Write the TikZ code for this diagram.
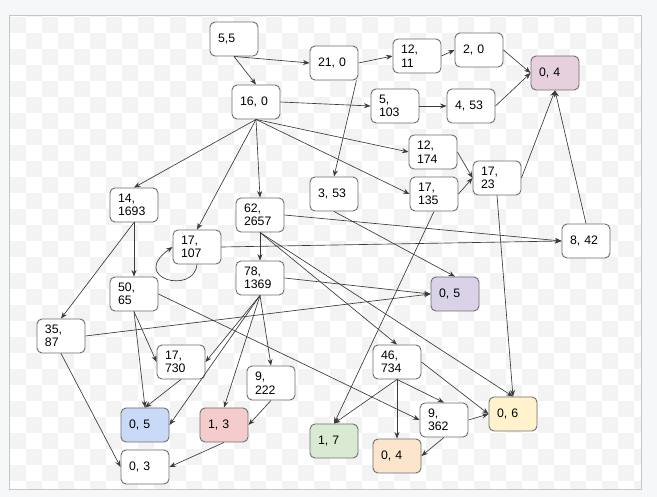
\documentclass[tikz,border=0pt]{standalone}
\usepackage{fontspec}
\setmainfont{Liberation Sans}
\usetikzlibrary{arrows.meta,calc}
\definecolor{pagebg}{HTML}{F6F7F9}
\definecolor{checkgray}{HTML}{F3F3F3}
\definecolor{framecol}{HTML}{C6C6C6}
\definecolor{boxline}{HTML}{6E6E6E}
\definecolor{edgecol}{HTML}{3A3A3A}
\definecolor{cpink}{HTML}{E6D0DE}
\definecolor{cpurple}{HTML}{D9D2E9}
\definecolor{cblue}{HTML}{C9DAF8}
\definecolor{cred}{HTML}{F4CCCC}
\definecolor{cgreen}{HTML}{D9EAD3}
\definecolor{corange}{HTML}{FCE5CD}
\definecolor{cyellow}{HTML}{FFF2CC}
\begin{document}
\begin{tikzpicture}[x=1pt,y=-1pt,
  box/.style={draw=boxline, fill=white, rounded corners=5pt, line width=0.9pt,
    minimum width=48pt, minimum height=34pt, text width=32pt,
    inner xsep=8pt, inner ysep=0pt, align=left,
    font=\fontsize{12.3}{13.5}\selectfont},
  edge/.style={draw=edgecol, line width=0.65pt, -{Stealth[length=6.5pt,width=5pt]}}]
\useasboundingbox (0,0) rectangle (657,497);
\fill[pagebg] (0,0) rectangle (657,497);
\fill[white] (9,16) rectangle (641,490);
\begin{scope}
\clip (9,16) rectangle (641,490);
\foreach \i in {-1,...,39}{
  \foreach \j in {-1,...,29}{
    \pgfmathtruncatemacro\s{mod(\i+\j+2,2)}
    \ifnum\s=0 \fill[checkgray] (10+16*\i,17+16*\j) rectangle ++(16,16);\fi
  }
}
\end{scope}
\draw[framecol, line width=1pt] (9,16) rectangle (641,490);

\node[box] (n55) at (234,39) {5,5};
\node[box] (n210) at (334,63) {21, 0};
\node[box] (n1211) at (417,56) {12,\\11};
\node[box] (n20) at (479,50) {2, 0};
\node[box,fill=cpink] (n04a) at (555,73) {0, 4};
\node[box] (n160) at (256,102) {16, 0};
\node[box] (n5103) at (395,106) {5,\\103};
\node[box] (n453) at (471,106) {4, 53};
\node[box] (n12174) at (433,152) {12,\\174};
\node[box] (n353) at (334,194) {3, 53};
\node[box] (n17135) at (434,194) {17,\\135};
\node[box] (n1723) at (497,178) {17,\\23};
\node[box] (n1693) at (134,205) {14,\\1693};
\node[box] (n2657) at (260,215) {62,\\2657};
\node[box] (n107) at (197,247) {17,\\107};
\node[box] (n842) at (586,241) {8, 42};
\node[box] (n1369) at (260,278) {78,\\1369};
\node[box] (n5065) at (134,294) {50,\\65};
\node[box,fill=cpurple] (n05p) at (455,294) {0, 5};
\node[box] (n3587) at (61,336) {35,\\87};
\node[box] (n730) at (181,362) {17,\\730};
\node[box] (n46734) at (397,362) {46,\\734};
\node[box] (n9222) at (271,383) {9,\\222};
\node[box,fill=cyellow] (n06) at (513,414) {0, 6};
\node[box] (n9362) at (444,420) {9,\\362};
\node[box,fill=cblue] (n05b) at (145,425) {0, 5};
\node[box,fill=cred] (n13) at (224,425) {1, 3};
\node[box,fill=cgreen] (n17) at (334,441) {1, 7};
\node[box,fill=corange] (n04o) at (397,456) {0, 4};
\node[box] (n03) at (145,467) {0, 3};

\draw[edge] (n55.south) -- (n210.west);
\draw[edge] (n55.south) -- (n160.north);
\draw[edge] (n210.east) -- (n1211.west);
\draw[edge] (n1211.east) -- (n20.west);
\draw[edge] (n20.east) -- (n04a.west);
\draw[edge] (n453.east) -- (n04a.west);
\draw[edge] (n160.east) -- (n5103.west);
\draw[edge] (n5103.east) -- (n453.west);
\draw[edge] (n160.south) -- (n12174.west);
\draw[edge] ($(n210.south east)+(-2,0)$) -- (n353.north);
\draw[edge] (n160.south) -- (n1693.north);
\draw[edge] (n160.south) -- (n107.north);
\draw[edge] (n160.south) -- (n2657.north);
\draw[edge] (n160.south) -- (n17135.west);
\draw[edge] (n12174.east) -- (n1723.west);
\draw[edge] (n17135.east) -- (n1723.west);
\draw[edge] (n1723.east) -- (n04a.south);
\draw[edge] (n842.north) -- (n04a.south);
\draw[edge] (n1723.south) -- (n06.north);
\draw[edge] (n2657.east) -- (n842.west);
\draw[edge] (n107.east) -- (n842.west);
\draw[edge] (n353.south) -- (n05p.north);
\draw[edge] (n1369.east) -- (n05p.west);
\draw[edge] (n3587.east) -- (n05p.west);
\draw[edge] (n17135.south) -- (n17.north);
\draw[edge] (n2657.south) -- (n46734.north);
\draw[edge] (n2657.south) -- (n06.north);
\draw[edge] (n2657.south) -- (n1369.north);
\draw[edge] (n5065.east) -- (n9362.west);
\draw[edge] (n46734.south) -- (n17.north);
\draw[edge] (n46734.south) -- (n04o.north);
\draw[edge] (n46734.south) -- (n9362.north);
\draw[edge] (n46734.east) -- (n06.west);
\draw[edge] (n9362.east) -- (n06.west);
\draw[edge] (n9362.south) -- (n04o.east);
\draw[edge] (n3587.south) -- (n03.west);
\draw[edge] (n1693.south) -- (n3587.north);
\draw[edge] (n1693.south) -- (n5065.north);
\draw[edge] (n5065.south) -- (n730.west);
\draw[edge] (n5065.south) -- (n05b.north);
\draw[edge] (n730.south) -- (n05b.north);
\draw[edge] (n1369.south) -- (n730.east);
\draw[edge] (n1369.south) -- (n05b.east);
\draw[edge] (n1369.south) -- (n13.north);
\draw[edge] (n1369.south) -- (n9222.north);
\draw[edge] (n9222.south) -- (n13.east);
\draw[edge] (n13.south) -- (n03.east);
\draw[edge] (n107.south) .. controls +(-3,31) and +(-44,31) .. (n107.west);
\end{tikzpicture}
\end{document}
